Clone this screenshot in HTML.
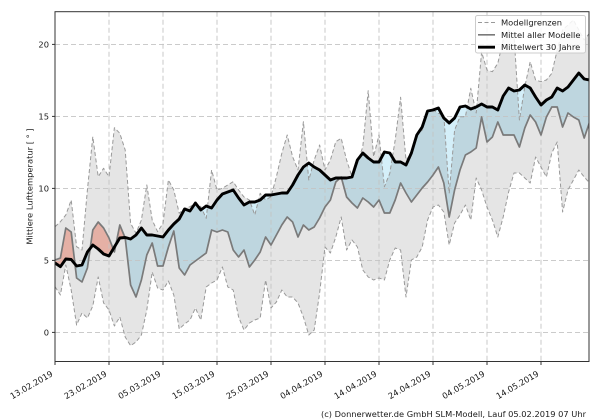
<!DOCTYPE html>
<html><head><meta charset="utf-8"><style>
html,body{margin:0;padding:0;background:#fff;}
svg{display:block;}
text{font-family:"DejaVu Sans","Liberation Sans",sans-serif;font-size:8.33px;fill:#1a1a1a;}
</style></head><body>
<svg width="600" height="420" viewBox="0 0 600 420" xmlns="http://www.w3.org/2000/svg" xmlns:xlink="http://www.w3.org/1999/xlink">
<defs>
<clipPath id="ax"><rect x="55" y="11.7" width="534" height="349.8"/></clipPath>
<clipPath id="above"><polygon points="55,263 60.4,266.7 65.8,259 71.2,259.5 76.6,266 82,265 87.4,252 92.8,245 98.2,249 103.6,254 109,256 114.4,247 119.8,238 125.2,237.5 130.6,239 136,235 141.4,228 146.8,235 152.2,235 157.6,236 163,237 168.4,230 173.8,224 179.2,219 184.6,209 190,211 195.4,203 200.8,210 206.2,206 211.6,208 217,200 222.4,194 227.8,192 233.2,190 238.6,198 244,205 249.4,202 254.8,202 260.2,200 265.6,195 271,195 276.4,194 281.8,193 287.2,193 292.6,185 298,175 303.4,167 308.8,163 314.2,167 319.6,170 325,175 330.4,180 335.8,178 341.2,178 346.6,178 352,177 357.4,160 362.8,153 368.2,158 373.6,162 379,162 384.4,152 389.8,153 395.2,162 400.6,162 406,165 411.4,153 416.8,135 422.2,127 427.6,111 433,110 438.4,108 443.8,118 449.2,123 454.6,118 460,107 465.4,106 470.8,109 476.2,107 481.6,104 487,107 492.4,107 497.8,110 503.2,96 508.6,88 514,91 519.4,90 524.8,85 530.2,88 535.6,97 541,105 546.4,100 551.8,97 557.2,88 562.6,91 568,87 573.4,80 578.8,73 584.2,79 589.6,80 589.6,0 55,0"/></clipPath>
<clipPath id="below"><polygon points="55,263 60.4,266.7 65.8,259 71.2,259.5 76.6,266 82,265 87.4,252 92.8,245 98.2,249 103.6,254 109,256 114.4,247 119.8,238 125.2,237.5 130.6,239 136,235 141.4,228 146.8,235 152.2,235 157.6,236 163,237 168.4,230 173.8,224 179.2,219 184.6,209 190,211 195.4,203 200.8,210 206.2,206 211.6,208 217,200 222.4,194 227.8,192 233.2,190 238.6,198 244,205 249.4,202 254.8,202 260.2,200 265.6,195 271,195 276.4,194 281.8,193 287.2,193 292.6,185 298,175 303.4,167 308.8,163 314.2,167 319.6,170 325,175 330.4,180 335.8,178 341.2,178 346.6,178 352,177 357.4,160 362.8,153 368.2,158 373.6,162 379,162 384.4,152 389.8,153 395.2,162 400.6,162 406,165 411.4,153 416.8,135 422.2,127 427.6,111 433,110 438.4,108 443.8,118 449.2,123 454.6,118 460,107 465.4,106 470.8,109 476.2,107 481.6,104 487,107 492.4,107 497.8,110 503.2,96 508.6,88 514,91 519.4,90 524.8,85 530.2,88 535.6,97 541,105 546.4,100 551.8,97 557.2,88 562.6,91 568,87 573.4,80 578.8,73 584.2,79 589.6,80 589.6,420 55,420"/></clipPath>
<polygon id="btw" fill-rule="evenodd" points="55,260 60.4,258 65.8,228 71.2,232 76.6,278 82,282 87.4,268 92.8,230 98.2,222 103.6,228 109,238 114.4,252 119.8,225 125.2,238 130.6,285 136,297 141.4,280 146.8,255 152.2,243 157.6,266 163,266 168.4,247 173.8,231 179.2,268 184.6,275 190,265 195.4,261 200.8,257 206.2,253 211.6,230 217,232 222.4,230 227.8,232 233.2,250 238.6,257 244,250 249.4,267 254.8,260 260.2,252 265.6,237 271,245 276.4,235 281.8,225 287.2,217 292.6,222 298,237 303.4,225 308.8,230 314.2,227 319.6,218 325,207 330.4,200 335.8,182 341.2,177 346.6,197 352,203 357.4,208 362.8,198 368.2,202 373.6,207 379,200 384.4,213 389.8,213 395.2,200 400.6,183 406,193 411.4,202 416.8,195 422.2,188 427.6,182 433,175 438.4,167 443.8,183 449.2,217 454.6,190 460,170 465.4,155 470.8,152 476.2,148 481.6,117 487,142 492.4,137 497.8,122 503.2,135 508.6,135 514,135 519.4,147 524.8,128 530.2,115 535.6,122 541,135 546.4,117 551.8,107 557.2,107 562.6,127 568,113 573.4,117 578.8,120 584.2,138 589.6,122 589.6,80 584.2,79 578.8,73 573.4,80 568,87 562.6,91 557.2,88 551.8,97 546.4,100 541,105 535.6,97 530.2,88 524.8,85 519.4,90 514,91 508.6,88 503.2,96 497.8,110 492.4,107 487,107 481.6,104 476.2,107 470.8,109 465.4,106 460,107 454.6,118 449.2,123 443.8,118 438.4,108 433,110 427.6,111 422.2,127 416.8,135 411.4,153 406,165 400.6,162 395.2,162 389.8,153 384.4,152 379,162 373.6,162 368.2,158 362.8,153 357.4,160 352,177 346.6,178 341.2,178 335.8,178 330.4,180 325,175 319.6,170 314.2,167 308.8,163 303.4,167 298,175 292.6,185 287.2,193 281.8,193 276.4,194 271,195 265.6,195 260.2,200 254.8,202 249.4,202 244,205 238.6,198 233.2,190 227.8,192 222.4,194 217,200 211.6,208 206.2,206 200.8,210 195.4,203 190,211 184.6,209 179.2,219 173.8,224 168.4,230 163,237 157.6,236 152.2,235 146.8,235 141.4,228 136,235 130.6,239 125.2,237.5 119.8,238 114.4,247 109,256 103.6,254 98.2,249 92.8,245 87.4,252 82,265 76.6,266 71.2,259.5 65.8,259 60.4,266.7 55,263"/>
</defs>
<rect width="600" height="420" fill="#fff"/>
<g clip-path="url(#ax)">
<polygon fill="#e5e5e5" points="55,226.7 60.4,221.7 65.8,215 71.2,200 76.6,246.7 82,250 87.4,190 92.8,136.7 98.2,176.7 103.6,168.3 109,176.7 114.4,127.7 119.8,133.3 125.2,150 130.6,223.3 136,233.3 141.4,220 146.8,185 152.2,220 157.6,231.7 163,223.3 168.4,180 173.8,190 179.2,213.3 184.6,208.3 190,206.7 195.4,203.3 200.8,206.7 206.2,218.3 211.6,170 217,190 222.4,188.3 227.8,185 233.2,181.7 238.6,190 244,197 249.4,200 254.8,215 260.2,193.3 265.6,200 271,196.7 276.4,176.7 281.8,153.3 287.2,135 292.6,156.7 298,170 303.4,121.7 308.8,180 314.2,160 319.6,145 325,170 330.4,160 335.8,141.7 341.2,138.3 346.6,160 352,176.7 357.4,163.3 362.8,146.7 368.2,90.7 373.6,156.7 379,135 384.4,186.7 389.8,173.3 395.2,140 400.6,97.3 406,160 411.4,153.3 416.8,135 422.2,130 427.6,111.7 433,110 438.4,113.3 443.8,115 449.2,193.3 454.6,130 460,116.7 465.4,116.7 470.8,88.3 476.2,113 481.6,52 487,70 492.4,71.7 497.8,63.3 503.2,40 508.6,30 514,35 519.4,120 524.8,86.7 530.2,61.7 535.6,80 541,81.7 546.4,80 551.8,73.3 557.2,50 562.6,30 568,25 573.4,20 578.8,30 584.2,40 589.6,33 589.6,183 584.2,177 578.8,170 573.4,180 568,190 562.6,212 557.2,142 551.8,153 546.4,177 541,167 535.6,157 530.2,183 524.8,178 519.4,173 514,173 508.6,192 503.2,217 497.8,237 492.4,220 487,207 481.6,190 476.2,178 470.8,220 465.4,205 460,215 454.6,223 449.2,245 443.8,212 438.4,205 433,207 427.6,220 422.2,247 416.8,257 411.4,260 406,297 400.6,250 395.2,248 389.8,260 384.4,280 379,278 373.6,280 368.2,277 362.8,270 357.4,247 352,240 346.6,250 341.2,217 335.8,237 330.4,253 325,247 319.6,293 314.2,330 308.8,335 303.4,317 298,303 292.6,297 287.2,297 281.8,290 276.4,302 271,308 265.6,280 260.2,318 254.8,320 249.4,323 244,330 238.6,317 233.2,290 227.8,287 222.4,267 217,280 211.6,283 206.2,287 200.8,320 195.4,308 190,320 184.6,324 179.2,329 173.8,295 168.4,281 163,290 157.6,288 152.2,272 146.8,310 141.4,335 136,342 130.6,345.7 125.2,337 119.8,317 114.4,326 109,310 103.6,303 98.2,277 92.8,306 87.4,318 82,313 76.6,325 71.2,290 65.8,265 60.4,295 55,286.7"/>
<g style="mix-blend-mode:multiply">
<use href="#btw" xlink:href="#btw" fill="#d4eff9" clip-path="url(#below)"/>
<use href="#btw" xlink:href="#btw" fill="#ffc4b8" clip-path="url(#above)"/>
</g>
</g>
<g stroke="#c4c4c4" stroke-width="0.9" stroke-dasharray="5 3" fill="none">
<line x1="109" y1="11.7" x2="109" y2="361.5"/><line x1="163" y1="11.7" x2="163" y2="361.5"/>
<line x1="217" y1="11.7" x2="217" y2="361.5"/><line x1="271" y1="11.7" x2="271" y2="361.5"/>
<line x1="325" y1="11.7" x2="325" y2="361.5"/><line x1="379" y1="11.7" x2="379" y2="361.5"/>
<line x1="433" y1="11.7" x2="433" y2="361.5"/><line x1="487" y1="11.7" x2="487" y2="361.5"/>
<line x1="541" y1="11.7" x2="541" y2="361.5"/>
<line x1="55" y1="44.4" x2="589" y2="44.4"/><line x1="55" y1="116.4" x2="589" y2="116.4"/>
<line x1="55" y1="188.4" x2="589" y2="188.4"/><line x1="55" y1="260.4" x2="589" y2="260.4"/>
<line x1="55" y1="332.4" x2="589" y2="332.4"/>
</g>
<g clip-path="url(#ax)" fill="none" stroke-linejoin="round">
<polyline stroke="#999" stroke-width="1" stroke-dasharray="4 2.5" points="55,226.7 60.4,221.7 65.8,215 71.2,200 76.6,246.7 82,250 87.4,190 92.8,136.7 98.2,176.7 103.6,168.3 109,176.7 114.4,127.7 119.8,133.3 125.2,150 130.6,223.3 136,233.3 141.4,220 146.8,185 152.2,220 157.6,231.7 163,223.3 168.4,180 173.8,190 179.2,213.3 184.6,208.3 190,206.7 195.4,203.3 200.8,206.7 206.2,218.3 211.6,170 217,190 222.4,188.3 227.8,185 233.2,181.7 238.6,190 244,197 249.4,200 254.8,215 260.2,193.3 265.6,200 271,196.7 276.4,176.7 281.8,153.3 287.2,135 292.6,156.7 298,170 303.4,121.7 308.8,180 314.2,160 319.6,145 325,170 330.4,160 335.8,141.7 341.2,138.3 346.6,160 352,176.7 357.4,163.3 362.8,146.7 368.2,90.7 373.6,156.7 379,135 384.4,186.7 389.8,173.3 395.2,140 400.6,97.3 406,160 411.4,153.3 416.8,135 422.2,130 427.6,111.7 433,110 438.4,113.3 443.8,115 449.2,193.3 454.6,130 460,116.7 465.4,116.7 470.8,88.3 476.2,113 481.6,52 487,70 492.4,71.7 497.8,63.3 503.2,40 508.6,30 514,35 519.4,120 524.8,86.7 530.2,61.7 535.6,80 541,81.7 546.4,80 551.8,73.3 557.2,50 562.6,30 568,25 573.4,20 578.8,30 584.2,40 589.6,33"/>
<polyline stroke="#999" stroke-width="1" stroke-dasharray="4 2.5" points="55,286.7 60.4,295 65.8,265 71.2,290 76.6,325 82,313 87.4,318 92.8,306 98.2,277 103.6,303 109,310 114.4,326 119.8,317 125.2,337 130.6,345.7 136,342 141.4,335 146.8,310 152.2,272 157.6,288 163,290 168.4,281 173.8,295 179.2,329 184.6,324 190,320 195.4,308 200.8,320 206.2,287 211.6,283 217,280 222.4,267 227.8,287 233.2,290 238.6,317 244,330 249.4,323 254.8,320 260.2,318 265.6,280 271,308 276.4,302 281.8,290 287.2,297 292.6,297 298,303 303.4,317 308.8,335 314.2,330 319.6,293 325,247 330.4,253 335.8,237 341.2,217 346.6,250 352,240 357.4,247 362.8,270 368.2,277 373.6,280 379,278 384.4,280 389.8,260 395.2,248 400.6,250 406,297 411.4,260 416.8,257 422.2,247 427.6,220 433,207 438.4,205 443.8,212 449.2,245 454.6,223 460,215 465.4,205 470.8,220 476.2,178 481.6,190 487,207 492.4,220 497.8,237 503.2,217 508.6,192 514,173 519.4,173 524.8,178 530.2,183 535.6,157 541,167 546.4,177 551.8,153 557.2,142 562.6,212 568,190 573.4,180 578.8,170 584.2,177 589.6,183"/>
<polyline stroke="#7a7a7a" stroke-width="1.7" points="55,260 60.4,258 65.8,228 71.2,232 76.6,278 82,282 87.4,268 92.8,230 98.2,222 103.6,228 109,238 114.4,252 119.8,225 125.2,238 130.6,285 136,297 141.4,280 146.8,255 152.2,243 157.6,266 163,266 168.4,247 173.8,231 179.2,268 184.6,275 190,265 195.4,261 200.8,257 206.2,253 211.6,230 217,232 222.4,230 227.8,232 233.2,250 238.6,257 244,250 249.4,267 254.8,260 260.2,252 265.6,237 271,245 276.4,235 281.8,225 287.2,217 292.6,222 298,237 303.4,225 308.8,230 314.2,227 319.6,218 325,207 330.4,200 335.8,182 341.2,177 346.6,197 352,203 357.4,208 362.8,198 368.2,202 373.6,207 379,200 384.4,213 389.8,213 395.2,200 400.6,183 406,193 411.4,202 416.8,195 422.2,188 427.6,182 433,175 438.4,167 443.8,183 449.2,217 454.6,190 460,170 465.4,155 470.8,152 476.2,148 481.6,117 487,142 492.4,137 497.8,122 503.2,135 508.6,135 514,135 519.4,147 524.8,128 530.2,115 535.6,122 541,135 546.4,117 551.8,107 557.2,107 562.6,127 568,113 573.4,117 578.8,120 584.2,138 589.6,122"/>
<polyline stroke="#000" stroke-width="2.9" points="55,263 60.4,266.7 65.8,259 71.2,259.5 76.6,266 82,265 87.4,252 92.8,245 98.2,249 103.6,254 109,256 114.4,247 119.8,238 125.2,237.5 130.6,239 136,235 141.4,228 146.8,235 152.2,235 157.6,236 163,237 168.4,230 173.8,224 179.2,219 184.6,209 190,211 195.4,203 200.8,210 206.2,206 211.6,208 217,200 222.4,194 227.8,192 233.2,190 238.6,198 244,205 249.4,202 254.8,202 260.2,200 265.6,195 271,195 276.4,194 281.8,193 287.2,193 292.6,185 298,175 303.4,167 308.8,163 314.2,167 319.6,170 325,175 330.4,180 335.8,178 341.2,178 346.6,178 352,177 357.4,160 362.8,153 368.2,158 373.6,162 379,162 384.4,152 389.8,153 395.2,162 400.6,162 406,165 411.4,153 416.8,135 422.2,127 427.6,111 433,110 438.4,108 443.8,118 449.2,123 454.6,118 460,107 465.4,106 470.8,109 476.2,107 481.6,104 487,107 492.4,107 497.8,110 503.2,96 508.6,88 514,91 519.4,90 524.8,85 530.2,88 535.6,97 541,105 546.4,100 551.8,97 557.2,88 562.6,91 568,87 573.4,80 578.8,73 584.2,79 589.6,80"/>
</g>
<rect x="55" y="11.7" width="534" height="349.8" fill="none" stroke="#333" stroke-width="1"/>
<g stroke="#333" stroke-width="1">
<line x1="52" y1="44.4" x2="55" y2="44.4"/><line x1="52" y1="116.4" x2="55" y2="116.4"/>
<line x1="52" y1="188.4" x2="55" y2="188.4"/><line x1="52" y1="260.4" x2="55" y2="260.4"/>
<line x1="52" y1="332.4" x2="55" y2="332.4"/>
<line x1="55" y1="361.5" x2="55" y2="365"/><line x1="109" y1="361.5" x2="109" y2="365"/>
<line x1="163" y1="361.5" x2="163" y2="365"/><line x1="217" y1="361.5" x2="217" y2="365"/>
<line x1="271" y1="361.5" x2="271" y2="365"/><line x1="325" y1="361.5" x2="325" y2="365"/>
<line x1="379" y1="361.5" x2="379" y2="365"/><line x1="433" y1="361.5" x2="433" y2="365"/>
<line x1="487" y1="361.5" x2="487" y2="365"/><line x1="541" y1="361.5" x2="541" y2="365"/>
</g>
<g text-anchor="end">
<text x="49" y="47.4">20</text>
<text x="49" y="119.4">15</text>
<text x="49" y="191.4">10</text>
<text x="49" y="263.4">5</text>
<text x="49" y="335.4">0</text>
</g>
<g text-anchor="end">
<text x="53.5" y="375.5" transform="rotate(-30 53.5 375.5)">13.02.2019</text>
<text x="107.5" y="375.5" transform="rotate(-30 107.5 375.5)">23.02.2019</text>
<text x="161.5" y="375.5" transform="rotate(-30 161.5 375.5)">05.03.2019</text>
<text x="215.5" y="375.5" transform="rotate(-30 215.5 375.5)">15.03.2019</text>
<text x="269.5" y="375.5" transform="rotate(-30 269.5 375.5)">25.03.2019</text>
<text x="323.5" y="375.5" transform="rotate(-30 323.5 375.5)">04.04.2019</text>
<text x="377.5" y="375.5" transform="rotate(-30 377.5 375.5)">14.04.2019</text>
<text x="431.5" y="375.5" transform="rotate(-30 431.5 375.5)">24.04.2019</text>
<text x="485.5" y="375.5" transform="rotate(-30 485.5 375.5)">04.05.2019</text>
<text x="539.5" y="375.5" transform="rotate(-30 539.5 375.5)">14.05.2019</text>
</g>
<text x="32.5" y="186.5" text-anchor="middle" transform="rotate(-90 32.5 186.5)">Mittlere Lufttemperatur [ ° ]</text>
<rect x="475.5" y="15.5" width="110" height="37.5" rx="2" ry="2" fill="#fff" fill-opacity="0.85" stroke="#cccccc" stroke-width="1"/>
<line x1="478" y1="22.5" x2="495" y2="22.5" stroke="#999" stroke-width="1" stroke-dasharray="4 2.5"/>
<line x1="478" y1="34.8" x2="495" y2="34.8" stroke="#7a7a7a" stroke-width="1.7"/>
<line x1="478" y1="47.2" x2="495" y2="47.2" stroke="#000" stroke-width="2.9"/>
<text x="501" y="25.5">Modellgrenzen</text>
<text x="501" y="37.8">Mittel aller Modelle</text>
<text x="501" y="50.2">Mittelwert 30 Jahre</text>
<text x="321" y="417" textLength="265" lengthAdjust="spacingAndGlyphs">(c) Donnerwetter.de GmbH SLM-Modell, Lauf 05.02.2019 07 Uhr</text>
</svg>
</body></html>
